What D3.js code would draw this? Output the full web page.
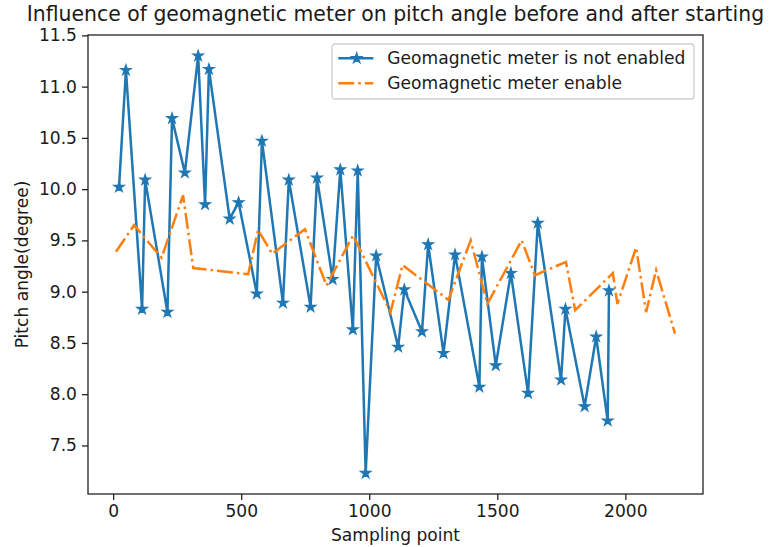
<!DOCTYPE html>
<html>
<head>
<meta charset="utf-8">
<script src="https://cdn.jsdelivr.net/npm/d3@7"></script>
<style>
  html, body { margin: 0; padding: 0; background: #fff; }
  svg { display: block; }
  text { font-family: "DejaVu Sans", sans-serif; fill: #1a1a1a; }
</style>
</head>
<body>
<div id="chart"></div>
<script>
// ---- Data ----
const title = "Influence of geomagnetic meter on pitch angle before and after starting";
const xLabel = "Sampling point";
const yLabel = "Pitch angle(degree)";
const seriesNames = ["Geomagnetic meter is not enabled", "Geomagnetic meter enable"];

const notEnabledX = [23, 50, 113, 125, 212, 230, 280, 332, 359, 374, 455, 490, 561, 581, 663, 686, 771, 796,
  857, 887, 936, 955, 986, 1027, 1113, 1137, 1206, 1230, 1290, 1335, 1430, 1440, 1494, 1553, 1620, 1658,
  1749, 1766, 1841, 1886, 1931, 1936];
const notEnabledY = [10.02, 11.16, 8.83, 10.09, 8.80, 10.69, 10.16, 11.30, 9.85, 11.17, 9.71, 9.87, 8.98, 10.47,
  8.89, 10.09, 8.85, 10.11, 9.12, 10.19, 8.63, 10.18, 7.23, 9.35, 8.46, 9.02, 8.61, 9.46, 8.40, 9.36,
  8.07, 9.34, 8.28, 9.18, 8.01, 9.67, 8.14, 8.83, 7.88, 8.56, 7.74, 9.01];

const enabledX = [11, 82, 189, 273, 313, 527, 566, 621, 749, 833, 937, 1083, 1130, 1309, 1396, 1461, 1595,
  1647, 1768, 1804, 1951, 1969, 2042, 2081, 2120, 2194];
const enabledY = [9.39, 9.65, 9.33, 9.94, 9.23, 9.17, 9.60, 9.37, 9.61, 9.06, 9.55, 8.80, 9.26, 8.92, 9.50,
  8.88, 9.50, 9.16, 9.29, 8.82, 9.18, 8.88, 9.43, 8.80, 9.21, 8.59];

const xTicks = [0, 500, 1000, 1500, 2000];
const yTicks = [7.5, 8.0, 8.5, 9.0, 9.5, 10.0, 10.5, 11.0, 11.5];

// ---- Layout ----
const W = 776, H = 547;
const plot = { left: 88, right: 703, top: 35, bottom: 494 };
const blue = "#1f77b4", orange = "#ff7f0e";
const fs = 17.1, titleFs = 20.4;
const lw = 2.5;
const dash = "16,4,2.5,4";

const svg = d3.select("#chart").append("svg").attr("width", W).attr("height", H);

// matplotlib-like 5% margins
const allX = notEnabledX.concat(enabledX), allY = notEnabledY.concat(enabledY);
const [xmin, xmax] = d3.extent(allX), [ymin, ymax] = d3.extent(allY);
const mx = (xmax - xmin) * 0.05, my = (ymax - ymin) * 0.05;
const x = d3.scaleLinear().domain([xmin - mx, xmax + mx]).range([plot.left, plot.right]);
const y = d3.scaleLinear().domain([ymin - my, ymax + my]).range([plot.bottom, plot.top]);

// Axes
const xAxis = svg.append("g").attr("transform", `translate(0,${plot.bottom})`)
  .call(d3.axisBottom(x).tickValues(xTicks).tickFormat(d3.format("d")).tickSize(6).tickPadding(5));
const yAxis = svg.append("g").attr("transform", `translate(${plot.left},0)`)
  .call(d3.axisLeft(y).tickValues(yTicks).tickFormat(d3.format(".1f")).tickSize(6).tickPadding(5));
[xAxis, yAxis].forEach(g => {
  g.select(".domain").remove();
  g.selectAll(".tick line").attr("stroke", "#222").attr("stroke-width", 1.3);
  g.selectAll(".tick text").attr("font-size", fs).attr("fill", "#1a1a1a")
    .style("font-family", '"DejaVu Sans", sans-serif');
});

// Lines
const lineGen = d3.line().x(d => x(d[0])).y(d => y(d[1]));
const blueData = notEnabledX.map((v, i) => [v, notEnabledY[i]]);
const orangeData = enabledX.map((v, i) => [v, enabledY[i]]);

const clipId = "plotclip";
svg.append("clipPath").attr("id", clipId).append("rect")
  .attr("x", plot.left).attr("y", plot.top).attr("width", plot.right - plot.left).attr("height", plot.bottom - plot.top);

const plotG = svg.append("g").attr("clip-path", `url(#${clipId})`);

plotG.append("path").datum(blueData).attr("d", lineGen)
  .attr("fill", "none").attr("stroke", blue).attr("stroke-width", lw).attr("stroke-linejoin", "round");

const star = d3.symbol().type(d3.symbolStar).size(32);
plotG.selectAll("path.star").data(blueData).enter().append("path").attr("class", "star")
  .attr("d", star).attr("transform", d => `translate(${x(d[0])},${y(d[1])})`)
  .attr("fill", blue).attr("stroke", blue).attr("stroke-width", 1.3).attr("stroke-linejoin", "miter");

plotG.append("path").datum(orangeData).attr("d", lineGen)
  .attr("fill", "none").attr("stroke", orange).attr("stroke-width", lw)
  .attr("stroke-dasharray", dash);

// Frame
svg.append("rect").attr("x", plot.left).attr("y", plot.top)
  .attr("width", plot.right - plot.left).attr("height", plot.bottom - plot.top)
  .attr("fill", "none").attr("stroke", "#222").attr("stroke-width", 1.3);

// Title & labels
svg.append("text").attr("x", (plot.left + plot.right) / 2).attr("y", 21)
  .attr("text-anchor", "middle").attr("font-size", titleFs).text(title);
svg.append("text").attr("x", (plot.left + plot.right) / 2).attr("y", 541)
  .attr("text-anchor", "middle").attr("font-size", fs).text(xLabel);
svg.append("text").attr("transform", `translate(28,${(plot.top + plot.bottom) / 2}) rotate(-90)`)
  .attr("text-anchor", "middle").attr("font-size", fs).text(yLabel);

// Legend
const lg = svg.append("g").attr("transform", "translate(332,44)");
lg.append("rect").attr("x", 0).attr("y", 0).attr("width", 362).attr("height", 55).attr("rx", 3)
  .attr("fill", "#fff").attr("fill-opacity", 0.8).attr("stroke", "#d0d0d0").attr("stroke-width", 1.3);
const items = [
  { name: seriesNames[0], color: blue, dash: null, marker: true },
  { name: seriesNames[1], color: orange, dash: dash, marker: false }
];
items.forEach((it, i) => {
  const cy = 14.3 + i * 25;
  lg.append("line").attr("x1", 6.3).attr("x2", 41.3).attr("y1", cy).attr("y2", cy)
    .attr("stroke", it.color).attr("stroke-width", lw).attr("stroke-dasharray", it.dash);
  if (it.marker) {
    lg.append("path").attr("d", star).attr("transform", `translate(24.7,${cy})`)
      .attr("fill", it.color).attr("stroke", it.color).attr("stroke-width", 1.3);
  }
  lg.append("text").attr("x", 55.3).attr("y", cy + 6).attr("font-size", fs).text(it.name);
});
</script>
</body>
</html>
